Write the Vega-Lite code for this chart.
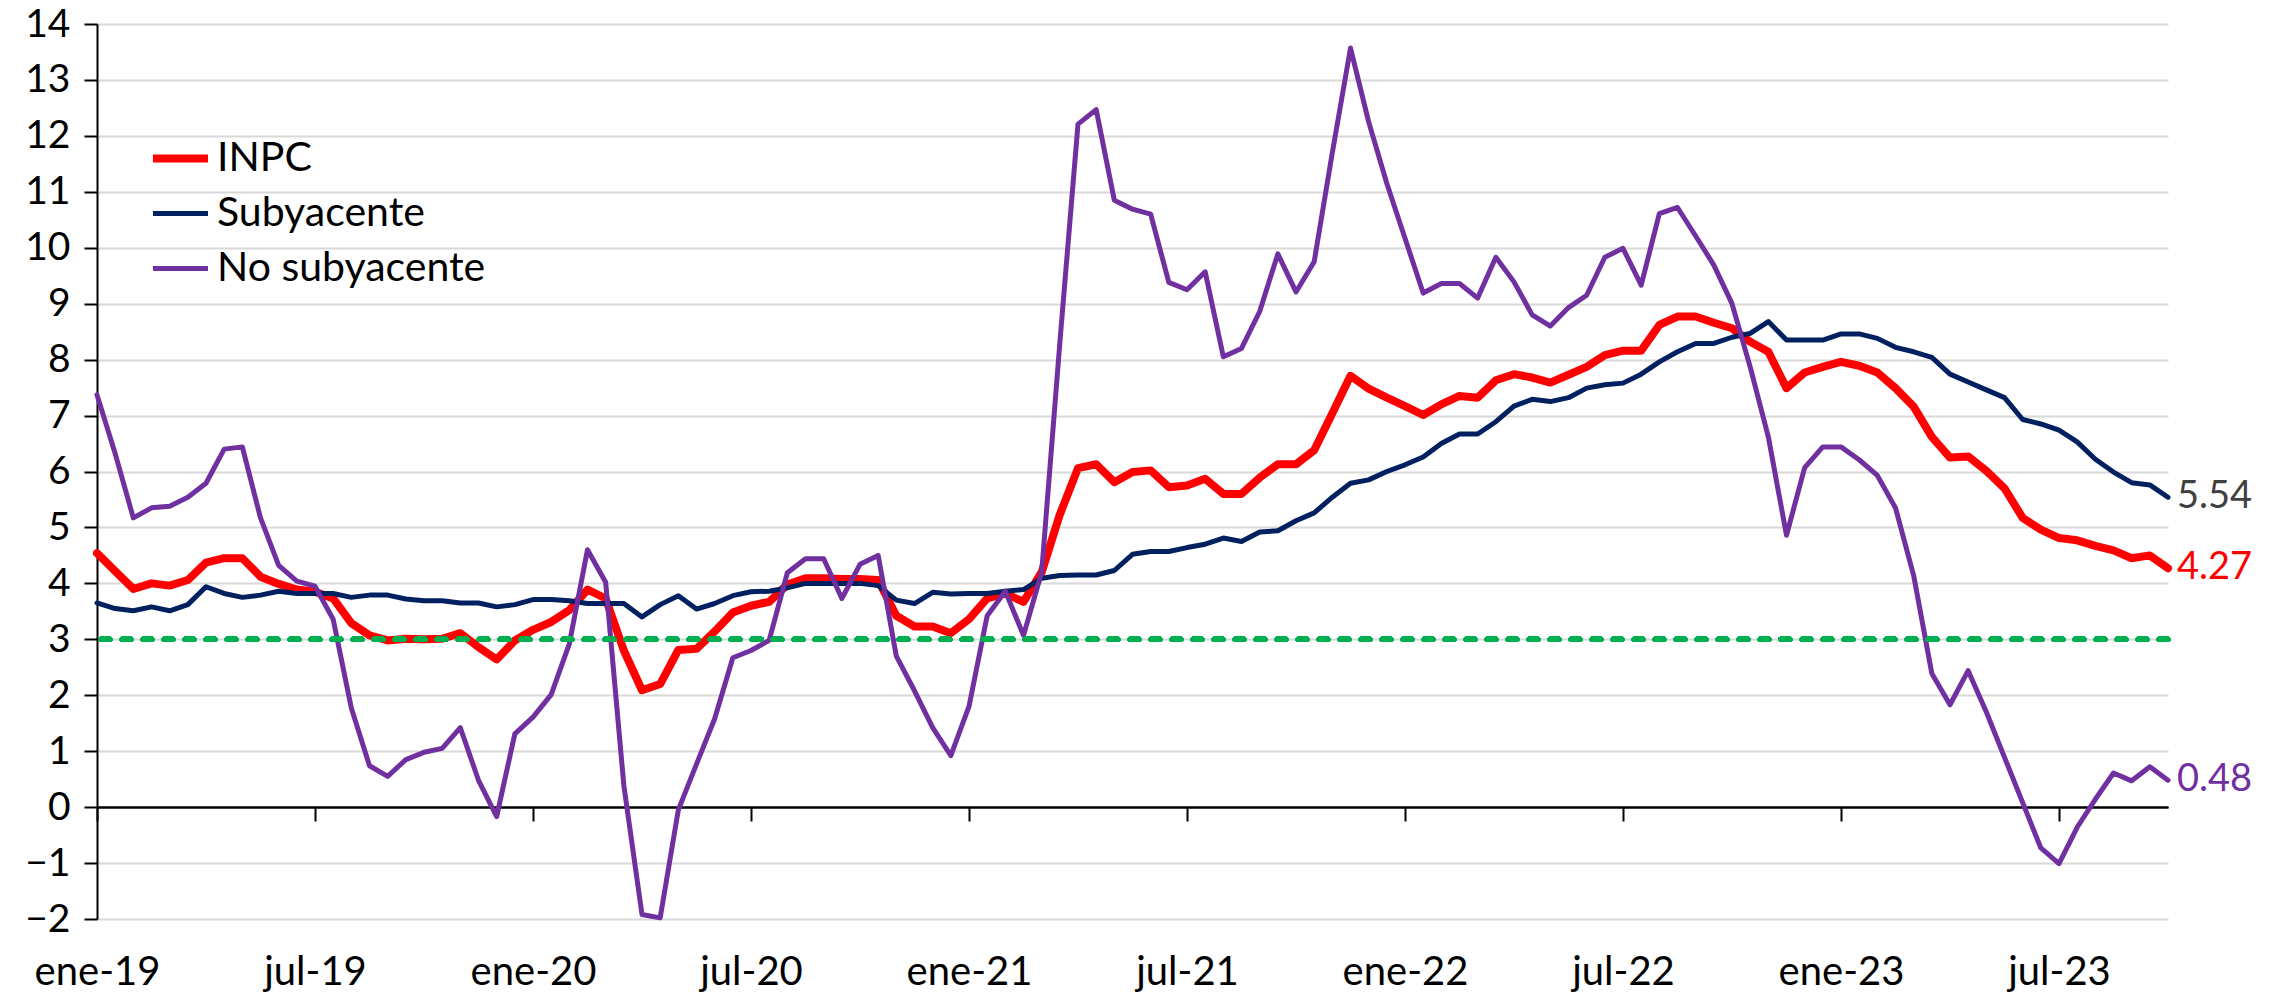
{
  "$schema": "https://vega.github.io/schema/vega-lite/v6.json",
  "width": 2071,
  "height": 895,
  "autosize": {"type": "none"},
  "padding": {"left": 97, "top": 24, "right": 112, "bottom": 78},
  "background": "white",
  "config": {
    "font": "Lato",
    "view": {"stroke": null}
  },
  "data": {
    "values": [
      {"periodo": "1Q ene-19", "INPC": 4.54, "Subyacente": 3.65, "No subyacente": 7.37},
      {"periodo": "2Q ene-19", "INPC": 4.22, "Subyacente": 3.55, "No subyacente": 6.32},
      {"periodo": "1Q feb-19", "INPC": 3.90, "Subyacente": 3.51, "No subyacente": 5.17},
      {"periodo": "2Q feb-19", "INPC": 4.00, "Subyacente": 3.58, "No subyacente": 5.35},
      {"periodo": "1Q mar-19", "INPC": 3.96, "Subyacente": 3.51, "No subyacente": 5.38},
      {"periodo": "2Q mar-19", "INPC": 4.06, "Subyacente": 3.62, "No subyacente": 5.54},
      {"periodo": "1Q abr-19", "INPC": 4.37, "Subyacente": 3.94, "No subyacente": 5.79},
      {"periodo": "2Q abr-19", "INPC": 4.45, "Subyacente": 3.82, "No subyacente": 6.40},
      {"periodo": "1Q may-19", "INPC": 4.45, "Subyacente": 3.75, "No subyacente": 6.44},
      {"periodo": "2Q may-19", "INPC": 4.12, "Subyacente": 3.79, "No subyacente": 5.17},
      {"periodo": "1Q jun-19", "INPC": 3.99, "Subyacente": 3.86, "No subyacente": 4.32},
      {"periodo": "2Q jun-19", "INPC": 3.89, "Subyacente": 3.82, "No subyacente": 4.04},
      {"periodo": "1Q jul-19", "INPC": 3.85, "Subyacente": 3.82, "No subyacente": 3.95},
      {"periodo": "2Q jul-19", "INPC": 3.73, "Subyacente": 3.82, "No subyacente": 3.36},
      {"periodo": "1Q ago-19", "INPC": 3.29, "Subyacente": 3.75, "No subyacente": 1.77},
      {"periodo": "2Q ago-19", "INPC": 3.07, "Subyacente": 3.79, "No subyacente": 0.74},
      {"periodo": "1Q sep-19", "INPC": 2.98, "Subyacente": 3.79, "No subyacente": 0.55},
      {"periodo": "2Q sep-19", "INPC": 3.01, "Subyacente": 3.72, "No subyacente": 0.85},
      {"periodo": "1Q oct-19", "INPC": 3.00, "Subyacente": 3.69, "No subyacente": 0.98},
      {"periodo": "2Q oct-19", "INPC": 3.01, "Subyacente": 3.69, "No subyacente": 1.05},
      {"periodo": "1Q nov-19", "INPC": 3.11, "Subyacente": 3.65, "No subyacente": 1.42},
      {"periodo": "2Q nov-19", "INPC": 2.86, "Subyacente": 3.65, "No subyacente": 0.48},
      {"periodo": "1Q dic-19", "INPC": 2.64, "Subyacente": 3.58, "No subyacente": -0.17},
      {"periodo": "2Q dic-19", "INPC": 2.98, "Subyacente": 3.62, "No subyacente": 1.31},
      {"periodo": "1Q ene-20", "INPC": 3.17, "Subyacente": 3.71, "No subyacente": 1.61},
      {"periodo": "2Q ene-20", "INPC": 3.31, "Subyacente": 3.71, "No subyacente": 2.01},
      {"periodo": "1Q feb-20", "INPC": 3.52, "Subyacente": 3.69, "No subyacente": 2.92},
      {"periodo": "2Q feb-20", "INPC": 3.89, "Subyacente": 3.64, "No subyacente": 4.60},
      {"periodo": "1Q mar-20", "INPC": 3.73, "Subyacente": 3.64, "No subyacente": 4.02},
      {"periodo": "2Q mar-20", "INPC": 2.80, "Subyacente": 3.64, "No subyacente": 0.39},
      {"periodo": "1Q abr-20", "INPC": 2.09, "Subyacente": 3.40, "No subyacente": -1.92},
      {"periodo": "2Q abr-20", "INPC": 2.20, "Subyacente": 3.62, "No subyacente": -1.98},
      {"periodo": "1Q may-20", "INPC": 2.81, "Subyacente": 3.78, "No subyacente": -0.05},
      {"periodo": "2Q may-20", "INPC": 2.83, "Subyacente": 3.54, "No subyacente": 0.77},
      {"periodo": "1Q jun-20", "INPC": 3.14, "Subyacente": 3.64, "No subyacente": 1.58},
      {"periodo": "2Q jun-20", "INPC": 3.48, "Subyacente": 3.78, "No subyacente": 2.67},
      {"periodo": "1Q jul-20", "INPC": 3.60, "Subyacente": 3.85, "No subyacente": 2.80},
      {"periodo": "2Q jul-20", "INPC": 3.67, "Subyacente": 3.86, "No subyacente": 2.98},
      {"periodo": "1Q ago-20", "INPC": 3.98, "Subyacente": 3.92, "No subyacente": 4.19},
      {"periodo": "2Q ago-20", "INPC": 4.09, "Subyacente": 4.00, "No subyacente": 4.44},
      {"periodo": "1Q sep-20", "INPC": 4.09, "Subyacente": 4.00, "No subyacente": 4.44},
      {"periodo": "2Q sep-20", "INPC": 4.08, "Subyacente": 4.00, "No subyacente": 3.73},
      {"periodo": "1Q oct-20", "INPC": 4.08, "Subyacente": 4.00, "No subyacente": 4.34},
      {"periodo": "2Q oct-20", "INPC": 4.06, "Subyacente": 3.96, "No subyacente": 4.50},
      {"periodo": "1Q nov-20", "INPC": 3.42, "Subyacente": 3.70, "No subyacente": 2.70},
      {"periodo": "2Q nov-20", "INPC": 3.23, "Subyacente": 3.64, "No subyacente": 2.08},
      {"periodo": "1Q dic-20", "INPC": 3.23, "Subyacente": 3.84, "No subyacente": 1.42},
      {"periodo": "2Q dic-20", "INPC": 3.11, "Subyacente": 3.81, "No subyacente": 0.92},
      {"periodo": "1Q ene-21", "INPC": 3.36, "Subyacente": 3.82, "No subyacente": 1.80},
      {"periodo": "2Q ene-21", "INPC": 3.73, "Subyacente": 3.82, "No subyacente": 3.42},
      {"periodo": "1Q feb-21", "INPC": 3.82, "Subyacente": 3.86, "No subyacente": 3.86},
      {"periodo": "2Q feb-21", "INPC": 3.67, "Subyacente": 3.89, "No subyacente": 3.07},
      {"periodo": "1Q mar-21", "INPC": 4.20, "Subyacente": 4.09, "No subyacente": 4.20},
      {"periodo": "2Q mar-21", "INPC": 5.23, "Subyacente": 4.14, "No subyacente": 8.30},
      {"periodo": "1Q abr-21", "INPC": 6.06, "Subyacente": 4.15, "No subyacente": 12.21},
      {"periodo": "2Q abr-21", "INPC": 6.13, "Subyacente": 4.15, "No subyacente": 12.47},
      {"periodo": "1Q may-21", "INPC": 5.81, "Subyacente": 4.23, "No subyacente": 10.85},
      {"periodo": "2Q may-21", "INPC": 5.99, "Subyacente": 4.52, "No subyacente": 10.69},
      {"periodo": "1Q jun-21", "INPC": 6.02, "Subyacente": 4.57, "No subyacente": 10.60},
      {"periodo": "2Q jun-21", "INPC": 5.72, "Subyacente": 4.57, "No subyacente": 9.38},
      {"periodo": "1Q jul-21", "INPC": 5.75, "Subyacente": 4.64, "No subyacente": 9.25},
      {"periodo": "2Q jul-21", "INPC": 5.87, "Subyacente": 4.70, "No subyacente": 9.57},
      {"periodo": "1Q ago-21", "INPC": 5.60, "Subyacente": 4.81, "No subyacente": 8.05},
      {"periodo": "2Q ago-21", "INPC": 5.60, "Subyacente": 4.75, "No subyacente": 8.20},
      {"periodo": "1Q sep-21", "INPC": 5.89, "Subyacente": 4.92, "No subyacente": 8.86},
      {"periodo": "2Q sep-21", "INPC": 6.13, "Subyacente": 4.94, "No subyacente": 9.89},
      {"periodo": "1Q oct-21", "INPC": 6.13, "Subyacente": 5.12, "No subyacente": 9.21},
      {"periodo": "2Q oct-21", "INPC": 6.38, "Subyacente": 5.26, "No subyacente": 9.75},
      {"periodo": "1Q nov-21", "INPC": 7.04, "Subyacente": 5.54, "No subyacente": 11.70},
      {"periodo": "2Q nov-21", "INPC": 7.71, "Subyacente": 5.79, "No subyacente": 13.57},
      {"periodo": "1Q dic-21", "INPC": 7.48, "Subyacente": 5.85, "No subyacente": 12.25},
      {"periodo": "2Q dic-21", "INPC": 7.32, "Subyacente": 6.00, "No subyacente": 11.15},
      {"periodo": "1Q ene-22", "INPC": 7.17, "Subyacente": 6.12, "No subyacente": 10.17},
      {"periodo": "2Q ene-22", "INPC": 7.01, "Subyacente": 6.26, "No subyacente": 9.19},
      {"periodo": "1Q feb-22", "INPC": 7.20, "Subyacente": 6.50, "No subyacente": 9.36},
      {"periodo": "2Q feb-22", "INPC": 7.35, "Subyacente": 6.67, "No subyacente": 9.36},
      {"periodo": "1Q mar-22", "INPC": 7.32, "Subyacente": 6.67, "No subyacente": 9.10},
      {"periodo": "2Q mar-22", "INPC": 7.63, "Subyacente": 6.89, "No subyacente": 9.83},
      {"periodo": "1Q abr-22", "INPC": 7.74, "Subyacente": 7.17, "No subyacente": 9.39},
      {"periodo": "2Q abr-22", "INPC": 7.68, "Subyacente": 7.29, "No subyacente": 8.80},
      {"periodo": "1Q may-22", "INPC": 7.59, "Subyacente": 7.25, "No subyacente": 8.60},
      {"periodo": "2Q may-22", "INPC": 7.73, "Subyacente": 7.32, "No subyacente": 8.93},
      {"periodo": "1Q jun-22", "INPC": 7.87, "Subyacente": 7.49, "No subyacente": 9.15},
      {"periodo": "2Q jun-22", "INPC": 8.08, "Subyacente": 7.55, "No subyacente": 9.83},
      {"periodo": "1Q jul-22", "INPC": 8.16, "Subyacente": 7.58, "No subyacente": 9.99},
      {"periodo": "2Q jul-22", "INPC": 8.16, "Subyacente": 7.74, "No subyacente": 9.33},
      {"periodo": "1Q ago-22", "INPC": 8.62, "Subyacente": 7.96, "No subyacente": 10.61},
      {"periodo": "2Q ago-22", "INPC": 8.77, "Subyacente": 8.14, "No subyacente": 10.72},
      {"periodo": "1Q sep-22", "INPC": 8.77, "Subyacente": 8.29, "No subyacente": 10.21},
      {"periodo": "2Q sep-22", "INPC": 8.66, "Subyacente": 8.29, "No subyacente": 9.69},
      {"periodo": "1Q oct-22", "INPC": 8.56, "Subyacente": 8.40, "No subyacente": 9.00},
      {"periodo": "2Q oct-22", "INPC": 8.32, "Subyacente": 8.47, "No subyacente": 7.87},
      {"periodo": "1Q nov-22", "INPC": 8.14, "Subyacente": 8.68, "No subyacente": 6.62},
      {"periodo": "2Q nov-22", "INPC": 7.49, "Subyacente": 8.35, "No subyacente": 4.86},
      {"periodo": "1Q dic-22", "INPC": 7.77, "Subyacente": 8.35, "No subyacente": 6.07},
      {"periodo": "2Q dic-22", "INPC": 7.87, "Subyacente": 8.35, "No subyacente": 6.44},
      {"periodo": "1Q ene-23", "INPC": 7.96, "Subyacente": 8.46, "No subyacente": 6.44},
      {"periodo": "2Q ene-23", "INPC": 7.89, "Subyacente": 8.46, "No subyacente": 6.21},
      {"periodo": "1Q feb-23", "INPC": 7.77, "Subyacente": 8.38, "No subyacente": 5.93},
      {"periodo": "2Q feb-23", "INPC": 7.49, "Subyacente": 8.22, "No subyacente": 5.35},
      {"periodo": "1Q mar-23", "INPC": 7.16, "Subyacente": 8.14, "No subyacente": 4.14},
      {"periodo": "2Q mar-23", "INPC": 6.62, "Subyacente": 8.04, "No subyacente": 2.39},
      {"periodo": "1Q abr-23", "INPC": 6.25, "Subyacente": 7.74, "No subyacente": 1.83},
      {"periodo": "2Q abr-23", "INPC": 6.27, "Subyacente": 7.60, "No subyacente": 2.44},
      {"periodo": "1Q may-23", "INPC": 6.01, "Subyacente": 7.46, "No subyacente": 1.70},
      {"periodo": "2Q may-23", "INPC": 5.70, "Subyacente": 7.32, "No subyacente": 0.89},
      {"periodo": "1Q jun-23", "INPC": 5.17, "Subyacente": 6.93, "No subyacente": 0.08},
      {"periodo": "2Q jun-23", "INPC": 4.96, "Subyacente": 6.85, "No subyacente": -0.73},
      {"periodo": "1Q jul-23", "INPC": 4.81, "Subyacente": 6.74, "No subyacente": -1.01},
      {"periodo": "2Q jul-23", "INPC": 4.77, "Subyacente": 6.53, "No subyacente": -0.36},
      {"periodo": "1Q ago-23", "INPC": 4.67, "Subyacente": 6.22, "No subyacente": 0.14},
      {"periodo": "2Q ago-23", "INPC": 4.59, "Subyacente": 5.99, "No subyacente": 0.61},
      {"periodo": "1Q sep-23", "INPC": 4.45, "Subyacente": 5.80, "No subyacente": 0.47},
      {"periodo": "2Q sep-23", "INPC": 4.50, "Subyacente": 5.76, "No subyacente": 0.72},
      {"periodo": "1Q oct-23", "INPC": 4.27, "Subyacente": 5.54, "No subyacente": 0.48}
    ]
  },
  "resolve": {"scale": {"color": "independent"}},
  "layer": [
    {
      "transform": [{"fold": ["INPC", "Subyacente", "No subyacente"], "as": ["serie", "valor"]}],
      "mark": {"type": "line", "strokeJoin": "round", "strokeCap": "round"},
      "encoding": {
        "x": {
          "field": "periodo",
          "type": "ordinal",
          "sort": null,
          "scale": {"type": "point", "padding": 0},
          "axis": {
            "title": null,
            "orient": "bottom",
            "offset": -112,
            "values": ["1Q ene-19", "1Q jul-19", "1Q ene-20", "1Q jul-20", "1Q ene-21", "1Q jul-21", "1Q ene-22", "1Q jul-22", "1Q ene-23", "1Q jul-23"],
            "labelExpr": "slice(datum.value, 3)",
            "labelAngle": 0,
            "labelOverlap": false,
            "labelFontSize": 40,
            "labelColor": "black",
            "labelBaseline": "alphabetic",
            "labelPadding": 163,
            "domain": true,
            "domainColor": "black",
            "domainWidth": 2,
            "ticks": true,
            "tickColor": "black",
            "tickWidth": 2,
            "tickSize": 14,
            "grid": false
          }
        },
        "y": {
          "field": "valor",
          "type": "quantitative",
          "scale": {"domain": [-2, 14], "nice": false, "zero": false},
          "axis": {
            "title": null,
            "values": [-2, -1, 0, 1, 2, 3, 4, 5, 6, 7, 8, 9, 10, 11, 12, 13, 14],
            "format": "d",
            "labelFontSize": 39,
            "labelColor": "black",
            "labelPadding": 14,
            "domainColor": "black",
            "domainWidth": 2,
            "tickColor": "black",
            "tickWidth": 2,
            "tickSize": 13,
            "grid": true,
            "gridColor": {"condition": {"test": "datum.value === 0", "value": "black"}, "value": "#d9d9d9"},
            "gridWidth": 2
          }
        },
        "color": {
          "field": "serie",
          "type": "nominal",
          "scale": {"domain": ["INPC", "Subyacente", "No subyacente"], "range": ["#ff0000", "#002060", "#7030a0"]},
          "legend": {
            "title": null,
            "orient": "none",
            "legendX": 63,
            "legendY": 114,
            "labelFontSize": 41,
            "labelColor": "black",
            "labelLimit": 0,
            "symbolType": "stroke",
            "symbolSize": 3025,
            "symbolStrokeWidth": 5,
            "labelOffset": 16,
            "rowPadding": 13,
            "padding": 0,
            "encode": {
              "symbols": {
                "update": {
                  "strokeWidth": {"signal": "datum.value === 'INPC' ? 8 : 5"}
                }
              }
            }
          }
        },
        "strokeWidth": {
          "condition": {"test": "datum.serie === 'INPC'", "value": 8},
          "value": 5
        }
      }
    },
    {
      "mark": {"type": "rule", "color": "#00b050", "strokeWidth": 5, "strokeDash": [9, 12], "strokeCap": "round"},
      "encoding": {"y": {"datum": 3}}
    },
    {
      "transform": [
        {"fold": ["INPC", "Subyacente", "No subyacente"], "as": ["serie", "valor"]},
        {"filter": "datum.periodo === '1Q oct-23'"}
      ],
      "mark": {"type": "text", "align": "left", "baseline": "middle", "dx": 9, "fontSize": 38},
      "encoding": {
        "x": {"field": "periodo", "type": "ordinal", "sort": null},
        "y": {"field": "valor", "type": "quantitative"},
        "text": {"field": "valor", "type": "quantitative", "format": ".2f"},
        "color": {
          "field": "serie",
          "type": "nominal",
          "scale": {"domain": ["INPC", "Subyacente", "No subyacente"], "range": ["#ff0000", "#404040", "#7030a0"]},
          "legend": null
        }
      }
    }
  ]
}
